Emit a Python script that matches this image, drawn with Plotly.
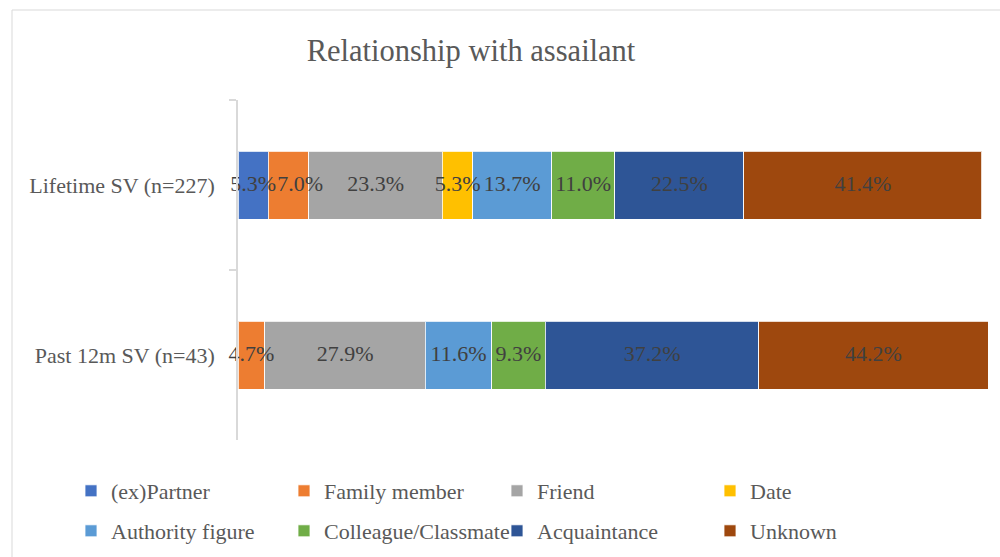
import plotly.graph_objects as go

categories = ["Lifetime SV (n=227)", "Past 12m SV (n=43)"]
series_names = ["(ex)Partner", "Family member", "Friend", "Date",
                "Authority figure", "Colleague/Classmate", "Acquaintance", "Unknown"]
ex_partner = [5.3, None]
family_member = [7.0, 4.7]
friend = [23.3, 27.9]
date = [5.3, None]
authority_figure = [13.7, 11.6]
colleague_classmate = [11.0, 9.3]
acquaintance = [22.5, 37.2]
unknown = [41.4, 44.2]
series_values = [ex_partner, family_member, friend, date,
                 authority_figure, colleague_classmate, acquaintance, unknown]
colors = ["#4472C4", "#ED7D31", "#A5A5A5", "#FFC000",
          "#5B9BD5", "#70AD47", "#2E5596", "#9E480E"]

FONT = "Liberation Serif, Times New Roman, serif"
GRAY = "#595959"
XMAX = 130.6
LABEL_SIZE = 22

L, R, T, B = 238, 12, 100, 117
W, H = 1000, 557
pw, ph = W - L - R, H - T - B

def px_x(x):
    return (x - L) / pw

def px_y(y):
    return (H - B - y) / ph

fig = go.Figure()
for i, (name, vals, col) in enumerate(zip(series_names, series_values, colors)):
    fig.add_trace(go.Bar(
        name=name, y=categories, x=vals, orientation="h",
        marker=dict(color=col, line=dict(color="rgba(255,255,255,0.8)", width=1)),
        legend="legend" if i < 4 else "legend2",
        hoverinfo="skip",
    ))

# approximate text width (Times metrics) in data units, to keep labels from overlapping
EM = {".": 0.25, "%": 0.833}
units_per_px = XMAX / pw

def text_w(s):
    return sum(EM.get(c, 0.5) for c in s) * LABEL_SIZE * units_per_px

lab_x, lab_y, lab_t = [], [], []
for ci, cat in enumerate(categories):
    cum = 0.0
    prev_right = None
    for vals in series_values:
        v = vals[ci]
        if v is None:
            continue
        end = cum + v
        t = f"{v:.1f}%"
        w = text_w(t)
        c = (cum + min(end, XMAX)) / 2
        if prev_right is not None and c - w / 2 < prev_right + 0.2:
            c = prev_right + 0.2 + w / 2
        prev_right = c + w / 2
        lab_x.append(c)
        lab_y.append(cat)
        lab_t.append(t)
        cum = end
fig.add_trace(go.Scatter(
    x=lab_x, y=lab_y, text=lab_t, mode="text", cliponaxis=False,
    textfont=dict(family=FONT, size=LABEL_SIZE, color="#404040"),
    showlegend=False, hoverinfo="skip",
))

legend_common = dict(
    orientation="h", xanchor="left", yanchor="middle",
    x=px_x(71), font=dict(family=FONT, size=22, color=GRAY),
    bgcolor="rgba(0,0,0,0)", entrywidth=168, entrywidthmode="pixels",
    traceorder="normal",
)

fig.update_layout(
    width=W, height=H,
    margin=dict(l=L, r=R, t=T, b=B, autoexpand=False),
    barmode="stack", bargap=0.6,
    plot_bgcolor="white", paper_bgcolor="white",
    font=dict(family=FONT, color=GRAY),
    title=dict(text="Relationship with assailant", x=0.471, xref="container",
               xanchor="center", y=1 - 50 / H, yanchor="middle",
               font=dict(family=FONT, size=30.5, color=GRAY)),
    legend=dict(**legend_common, y=px_y(491)),
    legend2=dict(**legend_common, y=px_y(531)),
    xaxis=dict(range=[0, XMAX], showgrid=False, zeroline=False,
               showticklabels=False, showline=False, ticks=""),
    yaxis=dict(type="category", categoryorder="array", categoryarray=categories,
               range=[1.5, -0.5], showline=True, linecolor="#D9D9D9", linewidth=1.5,
               ticks="outside", tickson="boundaries", ticklen=7, tickcolor="#D9D9D9",
               tickwidth=1.5, ticklabelstandoff=17,
               tickfont=dict(family=FONT, size=22, color=GRAY), showgrid=False),
    shapes=[dict(type="rect", xref="paper", yref="paper",
                 x0=px_x(12), x1=px_x(1010), y0=px_y(10), y1=px_y(570),
                 line=dict(color="#D9D9D9", width=1), fillcolor="rgba(0,0,0,0)",
                 layer="below")],
    showlegend=True,
)

fig.write_html("out.html", config={"displayModeBar": False},
               post_script="document.body.style.margin='0';document.body.style.overflow='hidden';")
